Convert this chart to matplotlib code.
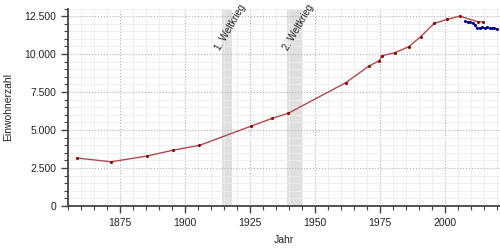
#!/usr/bin/env python
import matplotlib
matplotlib.use('Agg')
import matplotlib.pyplot as plt
from matplotlib.ticker import MultipleLocator, FuncFormatter

plt.rcParams['font.family'] = ['Liberation Sans', 'DejaVu Sans']

# population (red series)
years_a = [1858.5, 1871.5, 1885.4, 1895.5, 1905.5, 1925.4, 1933.5, 1939.6,
           1961.7, 1970.6, 1974.6, 1975.6, 1980.6, 1985.9, 1990.5, 1995.7,
           2000.7, 2005.5, 2012.6, 2014.5]
pop_a = [3160, 2910, 3290, 3680, 3990, 5260, 5770, 6100,
         8110, 9210, 9560, 9890, 10090, 10480, 11140, 12020,
         12280, 12500, 12120, 12120]

# population (blue series)
years_b = [2007.7, 2008.6, 2009.6, 2010.5, 2011.3, 2012.2, 2013.2, 2014.1,
           2015.1, 2016.0, 2017.0, 2018.0, 2018.8, 2019.9]
pop_b = [12150, 12125, 12085, 12040, 11890, 11710, 11710, 11755,
         11710, 11755, 11710, 11710, 11690, 11665]

wars = [(1914, 1918, '1. Weltkrieg'), (1939, 1945, '2. Weltkrieg')]

fig = plt.figure(figsize=(5, 2.5), dpi=100)
ax = fig.add_axes([0.136, 0.176, 0.864, 0.79])

for start, end, label in wars:
    ax.axvspan(start, end, color='#e0e0e0', lw=0, zorder=0)
    ax.text((start + end) / 2 + 1.5, 11750, label, rotation=60, fontsize=7,
            ha='center', va='center', color='#222222')

ax.plot(years_a, pop_a, color='#b04a4e', lw=1, marker='o', ms=1.2,
        mfc='#8b0000', mec='#8b0000', zorder=3)
ax.plot(years_b, pop_b, color='#3a3ab0', lw=1, marker='o', ms=1.2,
        mfc='#00008b', mec='#00008b', zorder=3)

ax.set_xlim(1855, 2021)
ax.set_ylim(0, 13000)
ax.xaxis.set_major_locator(MultipleLocator(25))
ax.xaxis.set_minor_locator(MultipleLocator(5))
ax.yaxis.set_major_locator(MultipleLocator(2500))
ax.yaxis.set_minor_locator(MultipleLocator(500))
ax.yaxis.set_major_formatter(FuncFormatter(lambda v, p: f'{int(v):,}'.replace(',', '.')))

ax.grid(which='major', color='#b0b0b0', ls=':', lw=0.8)
ax.grid(which='minor', color='#ececec', ls='-', lw=0.6)
ax.set_axisbelow(True)

for s in ['top', 'right']:
    ax.spines[s].set_visible(False)
for s in ['left', 'bottom']:
    ax.spines[s].set_color('#444444')
    ax.spines[s].set_linewidth(1.3)

ax.tick_params(which='major', length=5, width=1, color='#444444',
               labelsize=7.5, labelcolor='#222222')
ax.tick_params(which='minor', length=3, width=0.8, color='#444444')

ax.set_xlabel('Jahr', fontsize=7.5, color='#222222', labelpad=5)
ax.set_ylabel('Einwohnerzahl', fontsize=7.5, color='#222222', labelpad=8)

fig.savefig('out.png', dpi=100)
